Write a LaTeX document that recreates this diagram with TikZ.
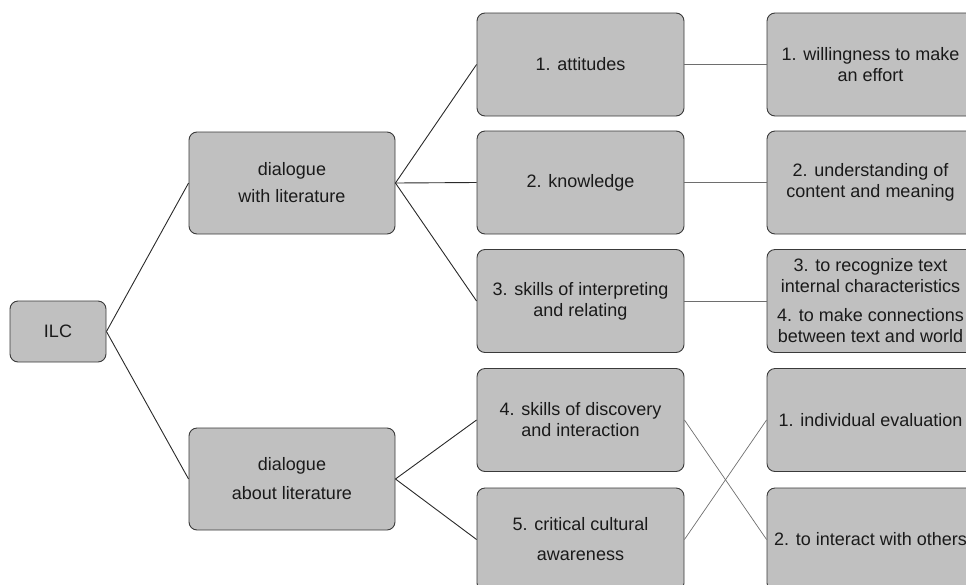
\documentclass[tikz,border=0pt]{standalone}
\usepackage{fontspec}
\setmainfont{Liberation Sans}
\definecolor{boxfill}{HTML}{C0C0C0}
\definecolor{boxline}{HTML}{3A3A3A}
\definecolor{textcol}{HTML}{1A1A1A}
\definecolor{mainlink}{HTML}{2A2A2A}
\definecolor{sublink}{HTML}{6E6E6E}
\begin{document}
\begin{tikzpicture}[x=1pt,y=-1pt,
  box/.style={draw=boxline, fill=boxfill, rounded corners=8pt, line width=0.9pt,
    align=center, inner sep=0pt, text=textcol,
    font=\fontsize{18}{21}\selectfont,
    minimum width=207pt, minimum height=103pt},
  link/.style={draw=mainlink, line width=0.9pt},
  sublinkstyle/.style={draw=sublink, line width=0.7pt}
]
\useasboundingbox (0,0) rectangle (966,584);
\clip (0,0) rectangle (966,584);

% root
\node[box, minimum width=96pt, minimum height=61pt] (ilc) at (58,331.5) {ILC};

% two dialogue branches
\node[box, minimum width=206pt, minimum height=102pt] (dlit) at (292,183)
  {dialogue\\[6pt]with literature};
\node[box, minimum width=206pt, minimum height=102pt] (dabout) at (292,479)
  {dialogue\\[8pt]about literature};

% competences
\node[box] (att) at (580.5,64.5) {1. attitudes};
\node[box] (know) at (580.5,182.5) {2. knowledge};
\node[box] (skint) at (580.5,301) {3. skills of interpreting\\and relating};
\node[box] (skdis) at (580.5,420) {4. skills of discovery\\and interaction};
\node[box] (crit) at (580.5,539.5) {5. critical cultural\\[9pt]awareness};

% outcomes
\node[box] (will) at (870.5,64.5) {1. willingness to make\\an effort};
\node[box] (under) at (870.5,182.5) {2. understanding of\\content and meaning};
\node[box] (recog) at (870.5,301)
  {3. to recognize text\\internal characteristics\\[8pt]4. to make connections\\between text and world};
\node[box] (indiv) at (870.5,420) {1. individual evaluation};
\node[box] (inter) at (870.5,539.5) {2. to interact with others};

% connectors
\draw[link] (ilc.east) -- (dlit.west);
\draw[link] (ilc.east) -- (dabout.west);
\draw[link] (dlit.east) -- (att.west);
\draw[link] (dlit.east) -- (know.west);
\draw[link] (dlit.east) -- (skint.west);
\draw[link] (dabout.east) -- (skdis.west);
\draw[link] (dabout.east) -- (crit.west);

\draw[sublinkstyle] (att.east) -- (will.west);
\draw[sublinkstyle] (know.east) -- (under.west);
\draw[sublinkstyle] (skint.east) -- (recog.west);
\draw[sublinkstyle] (skdis.east) -- (inter.west);
\draw[sublinkstyle] (crit.east) -- (indiv.west);
\end{tikzpicture}
\end{document}
